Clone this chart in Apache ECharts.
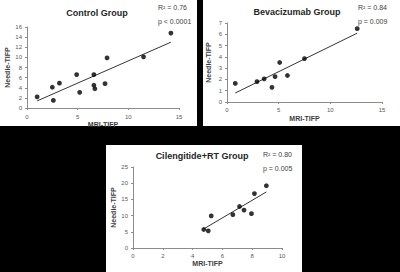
<!DOCTYPE html>
<html><head><meta charset="utf-8">
<script src="https://cdn.jsdelivr.net/npm/echarts@6/dist/echarts.min.js"></script>
<style>html,body{margin:0;padding:0;background:#000;}#c{width:400px;height:272px;}</style>
</head><body><div id="c"></div>
<script>
// Control Group
const controlX = [1.0, 2.5, 2.6, 3.2, 4.9, 5.2, 6.6, 6.6, 6.7, 7.7, 7.9, 11.5, 14.2];
const controlY = [2.2, 4.1, 1.5, 4.9, 6.6, 3.1, 6.6, 4.5, 3.8, 4.8, 9.9, 10.1, 14.8];
const controlTrendX = [1.0, 14.2];
const controlTrendY = [1.4, 13.0];
// Bevacizumab Group
const bevX = [0.8, 2.9, 3.6, 4.35, 4.65, 5.1, 5.85, 7.5, 12.6];
const bevY = [1.65, 1.8, 2.05, 1.3, 2.25, 3.5, 2.35, 3.85, 6.5];
const bevTrendX = [0.8, 12.6];
const bevTrendY = [0.8, 6.1];
// Cilengitide+RT Group
const cilX = [4.75, 5.05, 5.25, 6.7, 7.15, 7.45, 7.95, 8.15, 8.95];
const cilY = [5.7, 5.3, 9.9, 10.3, 12.8, 11.7, 10.6, 16.8, 19.2];
const cilTrendX = [4.75, 8.95];
const cilTrendY = [5.9, 17.3];

const titles = ['Control Group', 'Bevacizumab Group', 'Cilengitide+RT Group'];
const r2Text = ['R\u00b2 = 0.76', 'R\u00b2 = 0.84', 'R\u00b2 = 0.80'];
const pText = ['p < 0.0001', 'p = 0.009', 'p = 0.005'];
const xName = 'MRI-TIFP';
const yName = 'Needle-TIFP';

const FONT = 'Liberation Sans';
const zip = (a, b) => a.map((v, i) => [v, b[i]]);

const grids = [
  {left: 27, right: 221, top: 27, bottom: 164},
  {left: 227, right: 18, top: 23, bottom: 170},
  {left: 133, right: 118, top: 167, bottom: 24}
];
const xCfg = [{max: 15, interval: 5, gap: 11, m: 6}, {max: 15, interval: 5, gap: 13, m: 5}, {max: 10, interval: 2, gap: 12, m: 5}];
const yCfg = [{max: 16, interval: 2, gap: 16, m: 5}, {max: 7, interval: 1, gap: 15, m: 5}, {max: 25, interval: 5, gap: 15, m: 5}];

const axisLine = {show: true, lineStyle: {color: '#8c8c8c', width: 1}};
const axisTick = {show: true, length: 2, lineStyle: {color: '#8c8c8c'}};
const labelStyle = {color: '#595959', fontSize: 6, fontFamily: FONT};
const nameStyle = {color: '#404040', fontSize: 7, fontWeight: 'bold', fontFamily: FONT};

const xAxes = xCfg.map((c, i) => ({
  type: 'value', gridIndex: i, min: 0, max: c.max, interval: c.interval,
  name: xName, nameLocation: 'middle', nameGap: c.gap, nameTextStyle: nameStyle,
  axisLine, axisTick, axisLabel: Object.assign({margin: c.m}, labelStyle), splitLine: {show: false}
}));
const yAxes = yCfg.map((c, i) => ({
  type: 'value', gridIndex: i, min: 0, max: c.max, interval: c.interval,
  name: yName, nameLocation: 'middle', nameGap: c.gap, nameTextStyle: nameStyle,
  axisLine, axisTick, axisLabel: Object.assign({margin: c.m}, labelStyle), splitLine: {show: false}
}));

const scatterData = [zip(controlX, controlY), zip(bevX, bevY), zip(cilX, cilY)];
const trendData = [zip(controlTrendX, controlTrendY), zip(bevTrendX, bevTrendY), zip(cilTrendX, cilTrendY)];
const series = [];
for (let i = 0; i < 3; i++) {
  series.push({type: 'line', xAxisIndex: i, yAxisIndex: i, data: trendData[i], showSymbol: false,
    lineStyle: {color: '#000', width: 0.8}, silent: true, z: 2});
  series.push({type: 'scatter', xAxisIndex: i, yAxisIndex: i, data: scatterData[i], symbolSize: 4.8,
    itemStyle: {color: '#000'}, z: 3});
}

const panels = [
  {x: 0, y: 0, w: 197, h: 126},
  {x: 203, y: 0, w: 197, h: 126},
  {x: 106, y: 145, w: 196, h: 127}
];
const titlePos = [[97, 13], [297, 12], [202, 156]];
const statPos = [[158, 14], [358, 14], [263, 161]];

const graphic = [];
panels.forEach(p => graphic.push({type: 'rect', shape: {x: p.x, y: p.y, width: p.w, height: p.h},
  style: {fill: '#ffffff'}, z: -10, silent: true}));
titles.forEach((t, i) => graphic.push({type: 'text', x: titlePos[i][0], y: titlePos[i][1],
  style: {text: t, fill: '#262626', fontSize: 9, fontWeight: 'bold', fontFamily: FONT,
    align: 'center', verticalAlign: 'middle'}}));
r2Text.forEach((t, i) => {
  graphic.push({type: 'text', x: statPos[i][0], y: statPos[i][1],
    style: {text: t + '\n' + pText[i], fill: '#404040', fontSize: 7, lineHeight: 14, fontFamily: FONT,
      align: 'left', verticalAlign: 'middle'}});
});

const chart = echarts.init(document.getElementById('c'), null, {renderer: 'svg'});
chart.setOption({
  backgroundColor: '#000',
  animation: false,
  grid: grids,
  xAxis: xAxes,
  yAxis: yAxes,
  series,
  graphic
});
</script></body></html>
